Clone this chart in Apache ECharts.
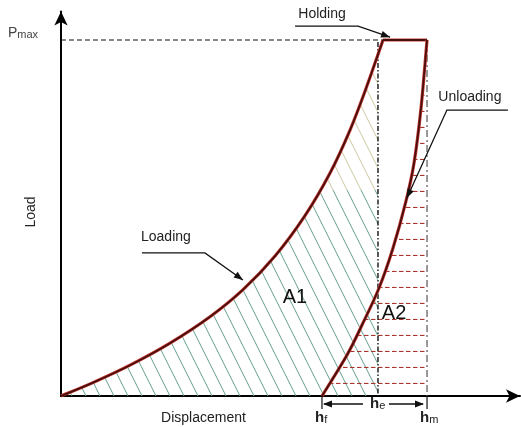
<!DOCTYPE html>
<html>
<head>
<meta charset="utf-8">
<script src="https://cdn.jsdelivr.net/npm/echarts@6/dist/echarts.min.js"></script>
<style>
  html, body { margin: 0; padding: 0; background: #fff; }
  #chart { width: 521px; height: 427px; }
</style>
</head>
<body>
<div id="chart"></div>
<script>
// Loading branch (displacement, load), peak load normalised to 100
const loadingDisp = [0, 8.74, 18.85, 29.78, 40.71, 49.73, 58.47, 66.67, 73.50, 78.96, 83.33, 87.98];
const loadingLoad = [0, 3.76, 8.65, 14.83, 22.25, 29.86, 39.30, 50.67, 62.61, 74.69, 86.38, 100];

// Holding at peak load
const holdingDisp = [87.98, 100];
const holdingLoad = [100, 100];

// Unloading branch
const unloadingDisp = [100, 98.36, 96.45, 94.26, 90.71, 86.89, 82.24, 78.14, 71.31];
const unloadingLoad = [100, 80.90, 65.45, 54.78, 41.57, 30.34, 19.94, 11.52, 0];

// Characteristic values
const pMax = 100;
const hf = 71.3;   // final (residual) depth
const he = 86.6;   // elastic recovery reference
const hm = 100;    // maximum depth

// Depth labels under the displacement axis
const depthSub = ['f', 'e', 'm'];
const depthDisp = [hf, he, hm];

// Curve annotations: text and the point each arrow touches
const noteText = ['Holding', 'Loading', 'Unloading'];
const noteDisp = [89.9, 49.7, 94.5];
const noteLoad = [100.8, 32.6, 55.6];

// Area labels
const areaText = ['A1', 'A2'];
const areaDisp = [63.9, 91.0];
const areaLoad = [27.8, 23.3];

// Leader-line layout (pixel offsets from the arrow tip): elbow, far end, text centre
const noteLayout = [
  { elbow: [-32, -11], end: [-95, -11], label: [-68, -23] },
  { elbow: [-38, -27], end: [-101, -27], label: [-77, -43] },
  { elbow: [40, -88], end: [101, -88], label: [63, -101] }
];

const FONT = '"Liberation Sans", Arial, sans-serif';
const CURVE_OUTER = '#c23a30';
const CURVE_INNER = '#4a0e0e';

// Diagonal hatch for A1 (light olive near the top, green-grey below)
function makeDiagonalHatch() {
  const W = 14, H = 448;
  const c = document.createElement('canvas');
  c.width = W; c.height = H;
  const g = c.getContext('2d');
  function band(color, y0, y1) {
    g.save();
    g.beginPath(); g.rect(0, y0, W, y1 - y0); g.clip();
    g.strokeStyle = color; g.lineWidth = 1;
    for (let x0 = -H / 2 - W; x0 <= W; x0 += W) {
      g.beginPath(); g.moveTo(x0, 0); g.lineTo(x0 + H / 2, H); g.stroke();
    }
    g.restore();
  }
  band('#cdc7a0', 0, 190);
  band('#64a08e', 190, H);
  return c;
}

// Horizontal dashed hatch for A2
function makeDashHatch() {
  const W = 7, H = 16;
  const c = document.createElement('canvas');
  c.width = W; c.height = H;
  const g = c.getContext('2d');
  g.strokeStyle = '#a8352e'; g.lineWidth = 1.2;
  g.beginPath(); g.moveTo(0, 15.5); g.lineTo(4.5, 15.5); g.stroke();
  return c;
}

const hatchA1 = makeDiagonalHatch();
const hatchA2 = makeDashHatch();

// Smooth Catmull-Rom path through pixel points, as SVG path data
function smoothPath(pts) {
  const f = (p) => p[0].toFixed(2) + ' ' + p[1].toFixed(2);
  let d = 'M' + f(pts[0]);
  for (let i = 0; i < pts.length - 1; i++) {
    const p0 = pts[i - 1] || pts[i], p1 = pts[i], p2 = pts[i + 1], p3 = pts[i + 2] || pts[i + 1];
    const c1 = [p1[0] + (p2[0] - p0[0]) / 6, p1[1] + (p2[1] - p0[1]) / 6];
    const c2 = [p2[0] - (p3[0] - p1[0]) / 6, p2[1] - (p3[1] - p1[1]) / 6];
    d += ' C' + f(c1) + ' ' + f(c2) + ' ' + f(p2);
  }
  return d;
}
function toPx(api, xs, ys) { return xs.map((x, i) => api.coord([x, ys[i]])); }

function curveStroke(d) {
  return [
    { type: 'path', shape: { pathData: d }, style: { fill: 'none', stroke: CURVE_OUTER, lineWidth: 3.2, lineJoin: 'round' } },
    { type: 'path', shape: { pathData: d }, style: { fill: 'none', stroke: CURVE_INNER, lineWidth: 1.8, lineJoin: 'round' } }
  ];
}

function arrowHead(tip, from, len, half) {
  const dx = tip[0] - from[0], dy = tip[1] - from[1];
  const l = Math.hypot(dx, dy), ux = dx / l, uy = dy / l;
  const bx = tip[0] - ux * len, by = tip[1] - uy * len;
  return { type: 'polygon', shape: { points: [tip, [bx - uy * half, by + ux * half], [bx + uy * half, by - ux * half]] }, style: { fill: '#111' } };
}

const chart = echarts.init(document.getElementById('chart'));

const axisLine = { show: true, symbol: ['none', 'arrow'], symbolSize: [10, 14], lineStyle: { color: '#000', width: 2 } };

chart.setOption({
  animation: false,
  backgroundColor: '#fff',
  grid: { left: 61, right: 1, top: 11.5, bottom: 31, containLabel: false, outerBoundsMode: 'none' },
  graphic: [
    {
      type: 'text', x: 31, y: 212, rotation: Math.PI / 2, silent: true,
      style: { text: 'Load', fontFamily: FONT, fontSize: 14, fill: '#222', align: 'center', verticalAlign: 'middle' }
    }
  ],
  xAxis: {
    type: 'value', min: 0, max: 125.4,
    name: 'Displacement', nameLocation: 'middle', nameGap: 15,
    nameTextStyle: { fontFamily: FONT, fontSize: 14, color: '#222', padding: [0, 174, 0, 0] },
    axisLine: axisLine, axisTick: { show: false }, axisLabel: { show: false }, splitLine: { show: false }
  },
  yAxis: {
    type: 'value', min: 0, max: 108, interval: 100,
    axisLine: axisLine, axisTick: { show: false }, splitLine: { show: false },
    axisLabel: {
      show: true, margin: 23, verticalAlign: 'bottom',
      formatter: (v) => (v === pMax ? '{p|P}{s|max}' : ''),
      rich: {
        p: { fontFamily: FONT, fontSize: 14, color: '#444', verticalAlign: 'bottom' },
        s: { fontFamily: FONT, fontSize: 11, color: '#444', verticalAlign: 'bottom' }
      }
    }
  },
  series: [
    // A1 hatch: under the loading curve, up to the he line
    {
      type: 'custom', name: 'A1', data: [[0, 0]], z: 1, silent: true,
      renderItem: (params, api) => {
        const pts = toPx(api, loadingDisp, loadingLoad);
        const t = api.coord([he, pMax]), b = api.coord([he, 0]);
        const d = smoothPath(pts) + ' L' + t[0] + ' ' + t[1] + ' L' + b[0] + ' ' + b[1] + ' Z';
        return { type: 'path', shape: { pathData: d }, style: { fill: { image: hatchA1, repeat: 'repeat' }, stroke: 'none' } };
      }
    },
    // A2 hatch: between the unloading curve and hm
    {
      type: 'custom', name: 'A2', data: [[0, 0]], z: 2, silent: true,
      renderItem: (params, api) => {
        const pts = toPx(api, unloadingDisp, unloadingLoad);
        const b = api.coord([hm, 0]);
        const d = smoothPath(pts) + ' L' + b[0] + ' ' + b[1] + ' Z';
        return { type: 'path', shape: { pathData: d }, style: { fill: { image: hatchA2, repeat: 'repeat' }, stroke: 'none' } };
      }
    },
    // Pmax guide
    {
      type: 'line', name: 'Pmax', data: [[0, pMax], [loadingDisp[loadingDisp.length - 1], pMax]],
      symbol: 'none', silent: true, z: 3,
      lineStyle: { color: '#111', width: 1.2, type: [5, 3] }
    },
    // he guide (dash-dot)
    {
      type: 'line', name: 'he', data: [[he, pMax - 0.6], [he, 0]],
      symbol: 'none', silent: true, z: 3,
      lineStyle: { color: '#222', width: 1.5, type: [5, 2, 1.5, 2] }
    },
    // hm guide
    {
      type: 'line', name: 'hm', data: [[hm, pMax], [hm, 0]],
      symbol: 'none', silent: true, z: 3,
      lineStyle: { color: '#555', width: 1.2, type: [7, 3, 2, 3] }
    },
    // Loading, holding and unloading curves
    {
      type: 'custom', name: 'curves', data: [[0, 0]], z: 5, silent: true,
      renderItem: (params, api) => {
        const load = smoothPath(toPx(api, loadingDisp, loadingLoad));
        const hold = smoothPath(toPx(api, holdingDisp, holdingLoad));
        const unload = smoothPath(toPx(api, unloadingDisp, unloadingLoad));
        return { type: 'group', children: [].concat(curveStroke(load), curveStroke(hold), curveStroke(unload)) };
      }
    },
    // Depth markers below the axis: hf, he, hm and the he span arrows
    {
      type: 'custom', name: 'depths', data: [[0, 0]], z: 6, silent: true,
      renderItem: (params, api) => {
        const pf = api.coord([hf, 0]), pm = api.coord([hm, 0]), pe = api.coord([he, 0]);
        const y = pf[1];
        const kids = [];
        [pf, pm].forEach((p) => {
          kids.push({ type: 'line', shape: { x1: p[0], y1: y, x2: p[0], y2: y + 13 }, style: { stroke: '#111', lineWidth: 1.2 } });
        });
        const ya = y + 8;
        kids.push({ type: 'line', shape: { x1: pf[0] + 2, y1: ya, x2: pe[0] - 15, y2: ya }, style: { stroke: '#111', lineWidth: 1.3 } });
        kids.push({ type: 'line', shape: { x1: pe[0] + 11, y1: ya, x2: pm[0] - 4, y2: ya }, style: { stroke: '#111', lineWidth: 1.3 } });
        kids.push(arrowHead([pf[0] + 1, ya], [pf[0] + 20, ya], 9, 3.5));
        kids.push(arrowHead([pm[0] - 3, ya], [pm[0] - 20, ya], 9, 3.5));
        depthDisp.forEach((v, i) => {
          const p = api.coord([v, 0]);
          const isE = depthSub[i] === 'e';
          kids.push({
            type: 'text', x: isE ? p[0] - 8 : p[0] - 7, y: isE ? y + 15 : y + 29,
            style: {
              text: '{h|h}{s|' + depthSub[i] + '}', align: 'left', verticalAlign: 'bottom',
              rich: {
                h: { fontFamily: FONT, fontSize: 15, fontWeight: 'bold', fill: '#222', verticalAlign: 'bottom' },
                s: { fontFamily: FONT, fontSize: 11, fill: '#222', verticalAlign: 'bottom' }
              }
            }
          });
        });
        return { type: 'group', children: kids };
      }
    },
    // Annotations with leader arrows
    {
      type: 'custom', name: 'notes', data: [[0, 0]], z: 7, silent: true,
      renderItem: (params, api) => {
        const kids = [];
        noteText.forEach((t, i) => {
          const tip = api.coord([noteDisp[i], noteLoad[i]]);
          const L = noteLayout[i];
          const el = [tip[0] + L.elbow[0], tip[1] + L.elbow[1]];
          const en = [tip[0] + L.end[0], tip[1] + L.end[1]];
          kids.push({ type: 'polyline', shape: { points: [en, el, tip] }, style: { stroke: '#111', lineWidth: 1.3, fill: 'none' } });
          kids.push(arrowHead(tip, el, 9, 3.5));
          kids.push({
            type: 'text', x: tip[0] + L.label[0], y: tip[1] + L.label[1],
            style: { text: t, fontFamily: FONT, fontSize: 14, fill: '#222', align: 'center', verticalAlign: 'middle' }
          });
        });
        areaText.forEach((t, i) => {
          const p = api.coord([areaDisp[i], areaLoad[i]]);
          kids.push({
            type: 'text', x: p[0], y: p[1],
            style: { text: t, fontFamily: FONT, fontSize: 20, fill: '#111', align: 'center', verticalAlign: 'middle' }
          });
        });
        return { type: 'group', children: kids };
      }
    }
  ]
});
</script>
</body>
</html>
